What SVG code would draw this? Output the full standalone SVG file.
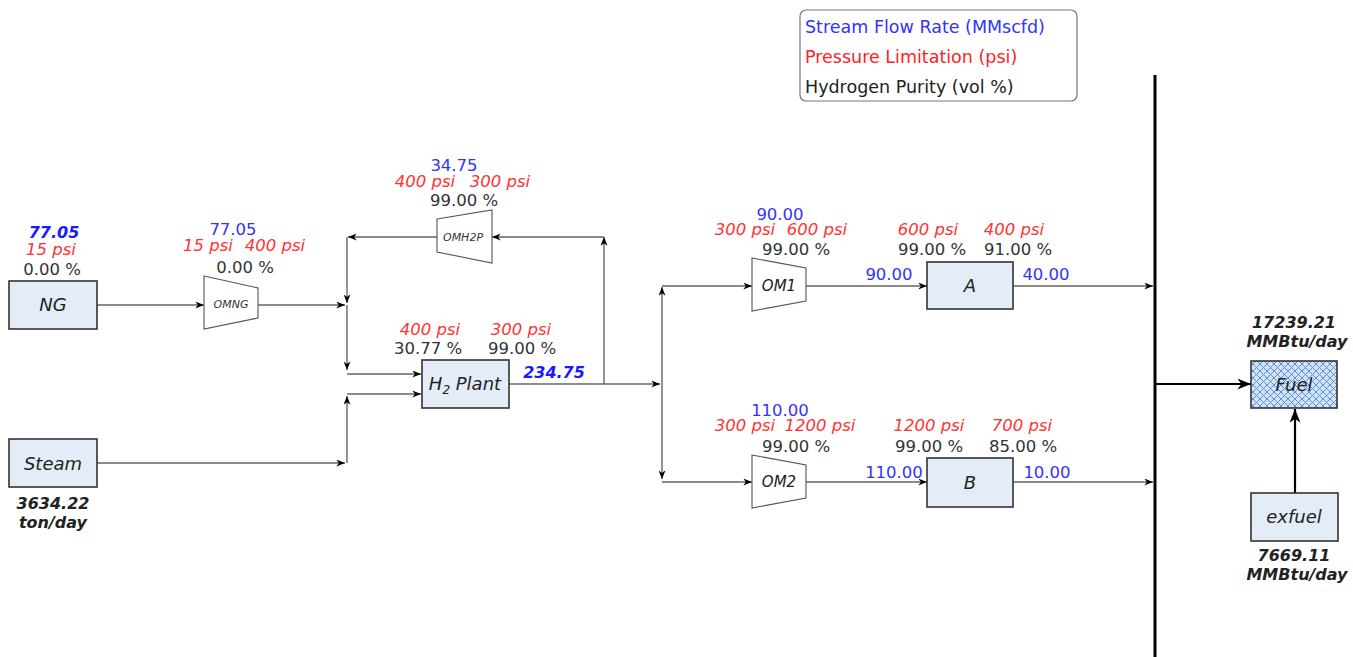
<svg xmlns="http://www.w3.org/2000/svg" width="1353" height="657" viewBox="0 0 1353 657">
<style>
text{font-family:"DejaVu Sans","Verdana",sans-serif;text-anchor:middle}
.box{fill:#e4ecf7;stroke:#333;stroke-width:1.6}
.cmp{fill:#fff;stroke:#555;stroke-width:1.1}
.nl{font-size:18px;font-style:italic;fill:#222}
.flow{font-size:16.5px;fill:#3333ff}
.bflow{font-size:16px;fill:#1a1aff;font-weight:bold;font-style:italic}
.psi{font-size:16.5px;fill:#ff3333;font-style:italic}
.pur{font-size:16.5px;fill:#333}
.bk{font-size:16px;fill:#222;font-weight:bold;font-style:italic}
.lg{text-anchor:start;font-size:17.5px}
.ln{fill:none;stroke:#666;stroke-width:1.4}
.th{fill:none;stroke:#000;stroke-width:2.2}
</style>
<defs>
<marker id="a" viewBox="0 0 10 8" refX="10" refY="4" markerWidth="9" markerHeight="7" orient="auto" markerUnits="userSpaceOnUse"><path d="M0,0 L10,4 L0,8 L3,4z" fill="#000"/></marker>
<marker id="b" viewBox="0 0 10 8" refX="10" refY="4" markerWidth="14" markerHeight="11" orient="auto" markerUnits="userSpaceOnUse"><path d="M0,0 L10,4 L0,8 L3,4z" fill="#000"/></marker>
<pattern id="hatch" width="7" height="7" patternUnits="userSpaceOnUse">
<rect width="7" height="7" fill="#d3e3f7"/>
<path d="M0,0 L7,7 M7,0 L0,7" stroke="#5b8fd6" stroke-width="1"/>
</pattern>
</defs>

<g id="legend">
<rect x="800" y="10" width="277" height="91" rx="6" fill="#fff" stroke="#777" stroke-width="1.2"/>
<text class="lg" x="805" y="33" fill="#3333ff">Stream Flow Rate (MMscfd)</text>
<text class="lg" x="805" y="63" fill="#ff2222">Pressure Limitation (psi)</text>
<text class="lg" x="805" y="93" fill="#222">Hydrogen Purity (vol %)</text>
</g>

<g id="connectors">
<path class="ln" d="M97,305 H204" marker-end="url(#a)"/>
<path class="ln" d="M258,305 H345" marker-end="url(#a)"/>
<path class="ln" d="M604,384 V237" marker-end="url(#a)"/>
<path class="ln" d="M604,237 H492" marker-end="url(#a)"/>
<path class="ln" d="M437,237 H348" marker-end="url(#a)"/>
<path class="ln" d="M347,237 V303" marker-end="url(#a)"/>
<path class="ln" d="M347,305 V370" marker-end="url(#a)"/>
<path class="ln" d="M347,374 H421" marker-end="url(#a)"/>
<path class="ln" d="M97,463 H345" marker-end="url(#a)"/>
<path class="ln" d="M347,463 V396" marker-end="url(#a)"/>
<path class="ln" d="M347,394 H421" marker-end="url(#a)"/>
<path class="ln" d="M509,384 H660" marker-end="url(#a)"/>
<path class="ln" d="M662,384 V287" marker-end="url(#a)"/>
<path class="ln" d="M662,286 H752" marker-end="url(#a)"/>
<path class="ln" d="M662,384 V479" marker-end="url(#a)"/>
<path class="ln" d="M662,482 H752" marker-end="url(#a)"/>
<path class="ln" d="M806,286 H927" marker-end="url(#a)"/>
<path class="ln" d="M1013,286 H1153" marker-end="url(#a)"/>
<path class="ln" d="M806,482 H927" marker-end="url(#a)"/>
<path class="ln" d="M1013,482 H1153" marker-end="url(#a)"/>
<path d="M1155,75 V657" stroke="#000" stroke-width="3" fill="none"/>
<path class="th" d="M1155,384 H1251" marker-end="url(#b)"/>
<path class="th" d="M1295,493 V409" marker-end="url(#b)"/>
</g>

<g id="NG">
<rect class="box" x="9" y="281" width="88" height="48"/>
<text class="nl" x="53" y="311">NG</text>
<text class="bflow" x="54" y="238">77.05</text>
<text class="psi" x="51" y="255">15 psi</text>
<text class="pur" x="52" y="275">0.00 %</text>
</g>

<g id="Steam">
<rect class="box" x="9" y="439" width="88" height="48"/>
<text class="nl" x="53" y="470">Steam</text>
<text class="bk" x="53" y="509">3634.22</text>
<text class="bk" x="53" y="528">ton/day</text>
</g>

<g id="OMNG">
<polygon class="cmp" points="204,276 258,288 258,318 204,329"/>
<text x="231" y="308" style="font-size:11px;font-style:italic;fill:#333">OMNG</text>
<text class="flow" x="233" y="235">77.05</text>
<text class="psi" x="208" y="251">15 psi</text>
<text class="psi" x="275" y="251">400 psi</text>
<text class="pur" x="245" y="273">0.00 %</text>
</g>

<g id="OMH2P">
<polygon class="cmp" points="437,219 492,210 492,263 437,252"/>
<text x="463" y="241" style="font-size:11px;font-style:italic;fill:#333">OMH2P</text>
<text class="flow" x="454" y="171">34.75</text>
<text class="psi" x="425" y="187">400 psi</text>
<text class="psi" x="500" y="187">300 psi</text>
<text class="pur" x="464" y="206">99.00 %</text>
</g>

<g id="H2Plant">
<rect class="box" x="422" y="360" width="87" height="48"/>
<text class="nl" x="465" y="390">H<tspan font-size="12" dy="4">2</tspan><tspan dy="-4"> Plant</tspan></text>
<text class="psi" x="430" y="335">400 psi</text>
<text class="psi" x="521" y="335">300 psi</text>
<text class="pur" x="428" y="354">30.77 %</text>
<text class="pur" x="522" y="354">99.00 %</text>
<text class="bflow" x="554" y="378">234.75</text>
</g>

<g id="OM1">
<polygon class="cmp" points="752,258 806,268 806,301 752,311"/>
<text x="779" y="291" style="font-size:15px;font-style:italic;fill:#222">OM1</text>
<text class="flow" x="780" y="220">90.00</text>
<text class="psi" x="745" y="235">300 psi</text>
<text class="psi" x="817" y="235">600 psi</text>
<text class="pur" x="796" y="255">99.00 %</text>
<text class="flow" x="889" y="280">90.00</text>
</g>

<g id="A">
<rect class="box" x="927" y="262" width="86" height="47"/>
<text class="nl" x="970" y="292">A</text>
<text class="psi" x="928" y="235">600 psi</text>
<text class="psi" x="1014" y="235">400 psi</text>
<text class="pur" x="932" y="255">99.00 %</text>
<text class="pur" x="1018" y="255">91.00 %</text>
<text class="flow" x="1046" y="280">40.00</text>
</g>

<g id="OM2">
<polygon class="cmp" points="752,455 806,465 806,498 752,508"/>
<text x="779" y="487" style="font-size:15px;font-style:italic;fill:#222">OM2</text>
<text class="flow" x="780" y="416">110.00</text>
<text class="psi" x="745" y="431">300 psi</text>
<text class="psi" x="820" y="431">1200 psi</text>
<text class="pur" x="796" y="452">99.00 %</text>
<text class="flow" x="894" y="478">110.00</text>
</g>

<g id="B">
<rect class="box" x="927" y="458" width="86" height="49"/>
<text class="nl" x="970" y="489">B</text>
<text class="psi" x="929" y="431">1200 psi</text>
<text class="psi" x="1022" y="431">700 psi</text>
<text class="pur" x="929" y="452">99.00 %</text>
<text class="pur" x="1023" y="452">85.00 %</text>
<text class="flow" x="1047" y="478">10.00</text>
</g>

<g id="Fuel">
<rect x="1251" y="361" width="86" height="47" fill="url(#hatch)" stroke="#333" stroke-width="1.6"/>
<text class="nl" x="1294" y="391">Fuel</text>
<text class="bk" x="1294" y="328">17239.21</text>
<text class="bk" x="1297" y="347">MMBtu/day</text>
</g>

<g id="exfuel">
<rect class="box" x="1251" y="493" width="87" height="48"/>
<text class="nl" x="1294" y="523">exfuel</text>
<text class="bk" x="1294" y="561">7669.11</text>
<text class="bk" x="1297" y="580">MMBtu/day</text>
</g>
</svg>
